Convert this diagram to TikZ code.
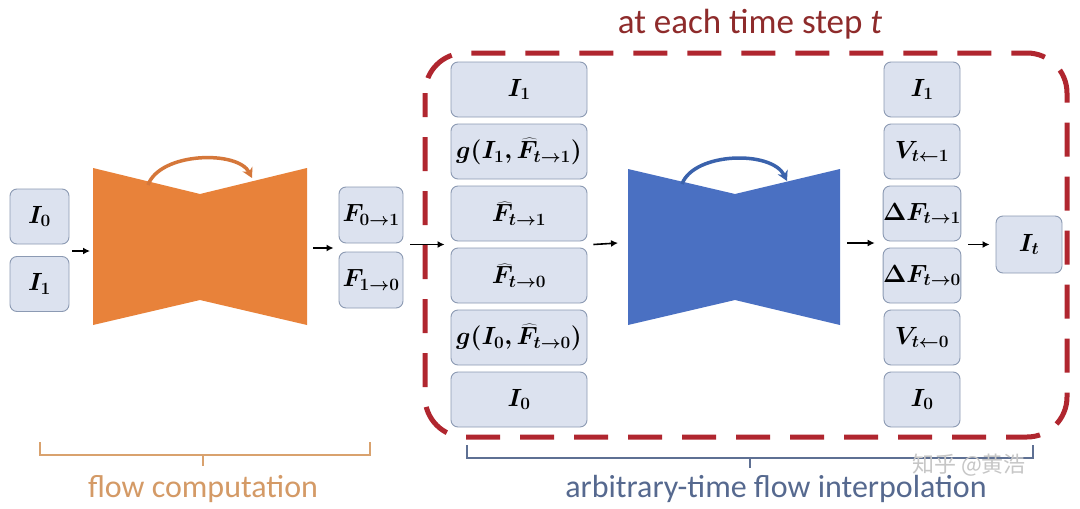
\documentclass[tikz,border=0pt]{standalone}
\usepackage{fontspec}
\usepackage{bm}
\newfontfamily\carl{Carlito}
\newfontfamily\cjkf{Noto Sans CJK SC}
\usetikzlibrary{arrows.meta,calc}
\definecolor{boxfill}{HTML}{DCE2EF}
\definecolor{boxline}{HTML}{8C9AB3}
\definecolor{orangebody}{HTML}{E8823A}
\definecolor{orangearc}{HTML}{D5773A}
\definecolor{bluebody}{HTML}{4A70C2}
\definecolor{bluearc}{HTML}{3A62AC}
\definecolor{framered}{HTML}{B0262F}
\definecolor{titlered}{HTML}{8E2B2B}
\definecolor{orangelabel}{HTML}{D49A66}
\definecolor{orangebrk}{HTML}{D9A26E}
\definecolor{bluelabel}{HTML}{56698F}
\definecolor{bluebrk}{HTML}{5E7093}
\begin{document}
\begin{tikzpicture}[x=1pt,y=-1pt,
  vbox/.style={draw=boxline, fill=boxfill, line width=0.9pt, rounded corners=7pt,
    inner sep=0pt, font=\fontsize{24}{28}\selectfont},
  leftbox/.style={vbox, minimum width=59pt, minimum height=55pt},
  fbox/.style={vbox, minimum width=64pt, minimum height=56pt},
  midbox/.style={vbox, minimum width=136pt, minimum height=55pt},
  rightbox/.style={vbox, minimum width=76pt, minimum height=55pt},
  outbox/.style={vbox, minimum width=66pt, minimum height=57pt},
  arr/.style={line width=1.6pt, -{Latex[length=7pt,width=7pt]}},
  skiparrow/.style={line width=3.5pt, -{Stealth[length=10pt,width=11pt]}},
  frame/.style={draw=framered, line width=5pt, dash pattern=on 34pt off 20pt, dash phase=10pt, rounded corners=40pt},
  label/.style={font=\carl\fontsize{32}{36}\selectfont, inner sep=0pt},
]
\useasboundingbox (0,0) rectangle (1080,509);
\fill[white] (0,0) rectangle (1080,509);

% dashed frame
\draw[frame] (425,53) rectangle (1067,437);
\node[font=\carl\fontsize{35}{40}\selectfont, text=titlered, inner sep=0pt] (title) at (750,24) {at each time step \textit{t}};

% left inputs
\node[leftbox] (I0) at (39.5,216.5) {$\bm{I_0}$};
\node[leftbox] (I1) at (39.5,284) {$\bm{I_1}$};

% orange network
\fill[orangebody] (93,168) -- (200,194) -- (307,168) -- (307,325) -- (200,300) -- (93,325) -- cycle;
\coordinate (ol) at (93,251);
\coordinate (or) at (307,248);
\draw[skiparrow, orangearc] (148,185) .. controls (160,152) and (238,150) .. (252,178);

% flow outputs
\node[fbox] (F0) at (371,215) {$\bm{F_{0\to1}}$};
\node[fbox] (F1) at (371,280) {$\bm{F_{1\to0}}$};

% middle stack
\node[midbox] (m1) at (519,89.5) {$\bm{I_1}$};
\node[midbox] (m2) at (519,151.5) {$\bm{g(I_1,\widehat{F}_{t\to1})}$};
\node[midbox] (m3) at (519,213.5) {$\bm{\widehat{F}_{t\to1}}$};
\node[midbox] (m4) at (519,275.5) {$\bm{\widehat{F}_{t\to0}}$};
\node[midbox] (m5) at (519,337.5) {$\bm{g(I_0,\widehat{F}_{t\to0})}$};
\node[midbox] (m6) at (519,399.5) {$\bm{I_0}$};
\coordinate (mid) at (519,244.5);

% blue network
\fill[bluebody] (628,169) -- (735,194) -- (840,169) -- (840,325) -- (735,300) -- (628,325) -- cycle;
\coordinate (bl) at (628,243);
\coordinate (br) at (840,243);
\draw[skiparrow, bluearc] (682,184) .. controls (694,152) and (772,150) .. (787,181);

% right stack
\node[rightbox] (r1) at (922,89.5) {$\bm{I_1}$};
\node[rightbox] (r2) at (922,151.5) {$\bm{V_{t\leftarrow1}}$};
\node[rightbox] (r3) at (922,213.5) {$\bm{\Delta F_{t\to1}}$};
\node[rightbox] (r4) at (922,275.5) {$\bm{\Delta F_{t\to0}}$};
\node[rightbox] (r5) at (922,337.5) {$\bm{V_{t\leftarrow0}}$};
\node[rightbox] (r6) at (922,399.5) {$\bm{I_0}$};

\node[outbox] (It) at (1029,244.5) {$\bm{I_t}$};

% arrows
\draw[arr] ([xshift=3pt]ol -| I0.east) -- ([xshift=-3pt]ol);
\draw[arr] ([xshift=6pt]or) -- ([xshift=-5pt]or -| F0.west);
\draw[arr] ([xshift=7pt]F0.east |- mid) -- ([xshift=-6pt]mid -| m3.west);
\draw[arr] ([xshift=6pt]mid -| m3.east) -- ([xshift=-10pt]bl);
\draw[arr] ([xshift=7pt]br) -- ([xshift=-8pt]br -| r3.west);
\draw[arr] ([xshift=7pt]mid -| r3.east) -- ([xshift=-6pt]It.west |- mid);

% brackets
\draw[orangebrk, line width=2pt] (40,442) -- (40,455) -- (370,455) -- (370,442);
\draw[orangebrk, line width=2pt] (203,455) -- (203,466);
\node[label, text=orangelabel] (lf) at (203,489) {flow computation};

\draw[bluebrk, line width=2pt] (467,445) -- (467,458) -- (1033,458) -- (1033,445);
\draw[bluebrk, line width=2pt] (750,458) -- (750,468);
\node[label, text=bluelabel] (li) at (776,489) {arbitrary-time flow interpolation};

% watermark
\node[font=\cjkf\fontsize{22}{26}\selectfont, text=gray!45, inner sep=0pt] (wm) at (969,465) {知乎 @黄浩};
\end{tikzpicture}
\end{document}
